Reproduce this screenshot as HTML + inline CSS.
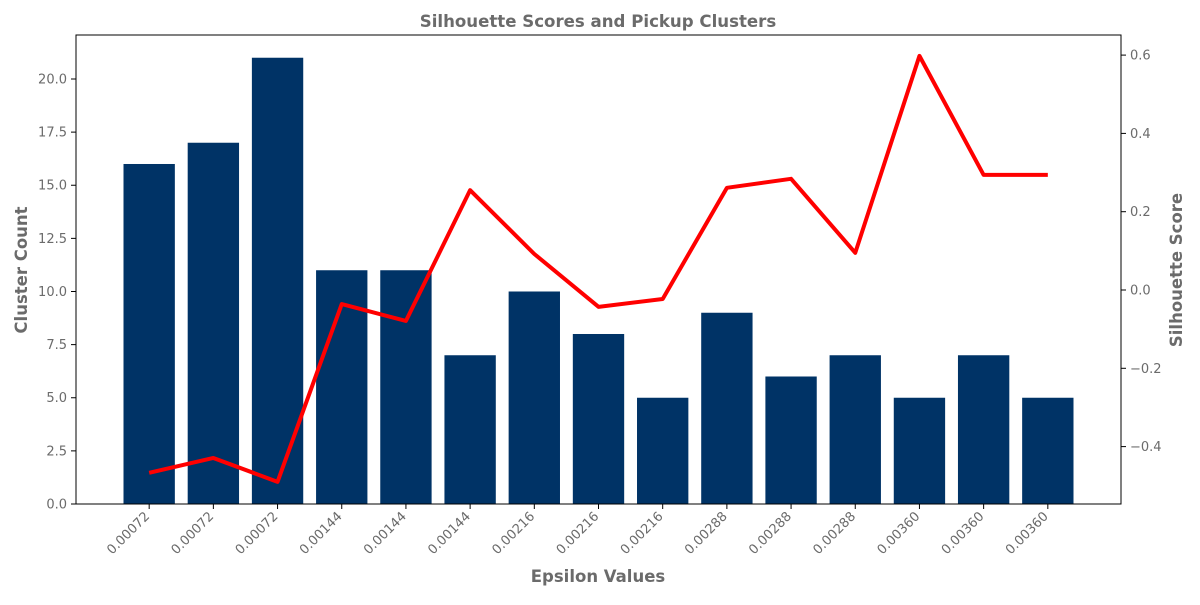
<!DOCTYPE html>
<html><head><meta charset="utf-8"><style>
body{margin:0;background:#fff;}
svg text{font-family:"DejaVu Sans","Liberation Sans",sans-serif;fill:#6b6b6b;}
</style></head><body>
<svg id="chart" width="1200" height="600" xmlns="http://www.w3.org/2000/svg">
<text x="598" y="27" text-anchor="middle" font-size="16.6" font-weight="bold">Silhouette Scores and Pickup Clusters</text>
<text x="598" y="582" text-anchor="middle" font-size="16.5" font-weight="bold">Epsilon Values</text>
<text transform="translate(27,270) rotate(-90)" text-anchor="middle" font-size="16.5" font-weight="bold">Cluster Count</text>
<text transform="translate(1182,270) rotate(-90)" text-anchor="middle" font-size="16.5" font-weight="bold">Silhouette Score</text>
<g id="bars"></g><g id="line"></g><g id="axes"></g>
</svg>
<script>
const categories=["0.00072","0.00072","0.00072","0.00144","0.00144","0.00144","0.00216","0.00216","0.00216","0.00288","0.00288","0.00288","0.00360","0.00360","0.00360"];
const clusterCounts=[16,17,21,11,11,7,10,8,5,9,6,7,5,7,5];
const silhouetteScores=[-0.467,-0.429,-0.490,-0.036,-0.079,0.255,0.092,-0.043,-0.023,0.261,0.284,0.095,0.598,0.294,0.294];
const leftTicks=[0,2.5,5,7.5,10,12.5,15,17.5,20];
const rightTicks=[-0.4,-0.2,0,0.2,0.4,0.6];
const L=76,R=1121,T=35,B=504;
const ns="http://www.w3.org/2000/svg";
const xs=i=>L+(i+1.14)*(R-L)/16.28;
const yl=v=>B-v*(B-T)/22.07;
const yr=v=>290-v*391.5;
function mk(tag,attrs,parent){const e=document.createElementNS(ns,tag);for(const k in attrs)e.setAttribute(k,attrs[k]);parent.appendChild(e);return e;}
const bars=document.getElementById('bars'),line=document.getElementById('line'),axes=document.getElementById('axes');
clusterCounts.forEach((v,i)=>{const w=0.8*(R-L)/16.28;
const r=mk('rect',{x:xs(i)-w/2,y:yl(v),width:w,height:B-yl(v),fill:'#003366'},bars);

});
const p=mk('polyline',{points:silhouetteScores.map((v,i)=>xs(i)+','+yr(v)).join(' '),fill:'none',stroke:'#ff0000','stroke-width':4,'stroke-linejoin':'round'},line);


const f=mk('rect',{x:L,y:T,width:R-L,height:B-T,fill:'none',stroke:'#000','stroke-width':1},axes);


leftTicks.forEach(t=>{const y=yl(t);mk('line',{x1:L-5,x2:L,y1:y,y2:y,stroke:'#000'},axes);
const tx=mk('text',{x:L-9,y:y+4.5,'text-anchor':'end','font-size':13},axes);tx.textContent=t.toFixed(1);

});
rightTicks.forEach(t=>{const y=yr(t);mk('line',{x1:R,x2:R+5,y1:y,y2:y,stroke:'#000'},axes);
const tx=mk('text',{x:R+9,y:y+4.5,'font-size':13},axes);tx.textContent=(t<0?'\u2212':'')+Math.abs(t).toFixed(1);

});
categories.forEach((c,i)=>{const x=xs(i);mk('line',{x1:x,x2:x,y1:B,y2:B+5,stroke:'#000'},axes);
const tx=mk('text',{x:x+1,y:B+13,'text-anchor':'end','font-size':13,transform:`rotate(-45 ${x+1} ${B+13})`},axes);tx.textContent=c;

});
</script>
</body></html>
